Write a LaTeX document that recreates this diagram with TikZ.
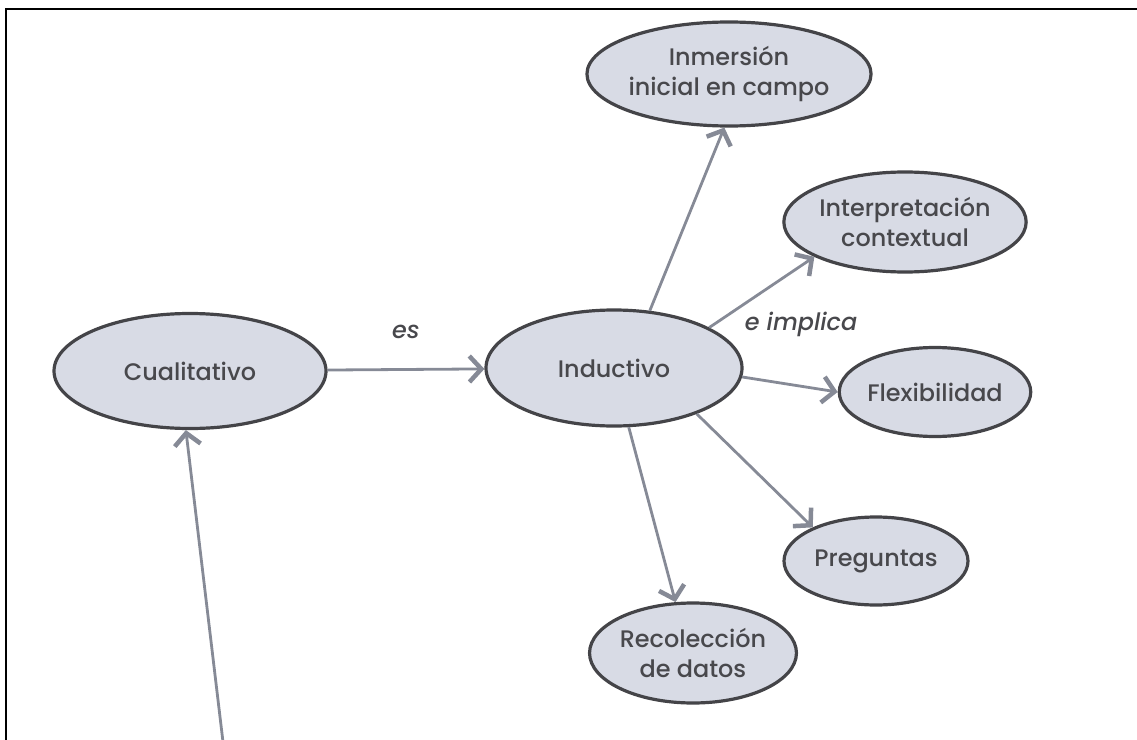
\documentclass[tikz,border=0pt]{standalone}
\usepackage{fontspec}
\setmainfont{Poppins}[UprightFont=* Medium,ItalicFont=* Medium Italic]
\usetikzlibrary{shapes.geometric,arrows.meta}
\definecolor{ellfill}{HTML}{D8DBE5}
\definecolor{ellline}{HTML}{444448}
\definecolor{txt}{HTML}{48484C}
\definecolor{arr}{HTML}{868A96}
\begin{document}
\begin{tikzpicture}[x=1bp,y=-1bp,
  concept/.style={ellipse,draw=ellline,fill=ellfill,line width=3.2bp,inner sep=0pt,
    text=txt,align=center,font=\fontsize{24}{30}\selectfont},
  link/.style={draw=arr,line width=2.8bp,-{Straight Barb[length=12bp,width=26bp,line width=4.5bp]}},
  lbl/.style={text=txt,font=\fontsize{24}{28}\selectfont\itshape}]
\useasboundingbox (0,0) rectangle (1137,740);
\draw[line width=1.8bp,black] (6,740) -- (6,9) -- (1137,9);
\node[concept,minimum width=272bp,minimum height=115bp] (cual) at (190,371) {Cualitativo};
\node[concept,minimum width=256bp,minimum height=116bp] (ind) at (614,368) {Inductivo};
\node[concept,minimum width=224bp,minimum height=104bp] (inm) at (729,74) {Inmersión\\inicial en campo};
\node[concept,minimum width=206bp,minimum height=100bp] (int) at (905,222) {Interpretación\\contextual};
\node[concept,minimum width=184bp,minimum height=89bp] (flex) at (935,392) {Flexibilidad};
\node[concept,minimum width=184bp,minimum height=88bp] (preg) at (876,561) {Preguntas};
\node[concept,minimum width=206bp,minimum height=100bp] (rec) at (693,653) {Recolección\\de datos};
\coordinate (bot) at (223,742);
\draw[link] (cual) -- (ind);
\draw[link] (bot) -- (cual.266);
\draw[link] (ind.58) -- (inm.265);
\draw[link] (ind.23) -- (int.201);
\draw[link] (ind.-4) -- (flex.180);
\draw[link] (ind.-29) -- (preg.152);
\draw[link] (ind.-76) -- (rec.109);
\node[lbl] (es) at (406,332) {es};
\node[lbl] (eimp) at (801,324) {e implica};
\end{tikzpicture}
\end{document}
